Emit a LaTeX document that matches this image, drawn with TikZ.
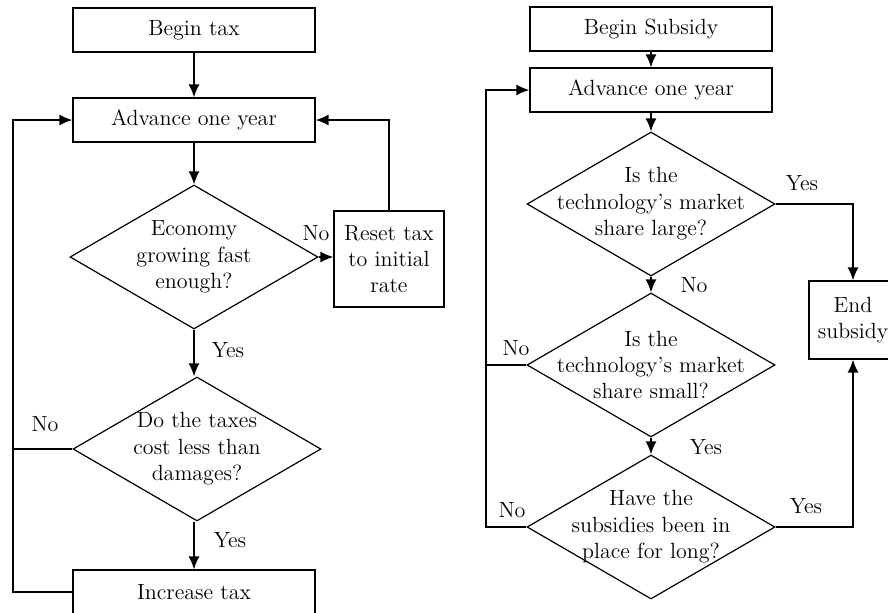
\documentclass[tikz,border=0pt]{standalone}
\usepackage{tikz}
\usetikzlibrary{shapes,arrows,positioning,calc,arrows.meta}

\begin{document}
\begin{tikzpicture}[x=0.5pt,y=-0.5pt,
    font=\fontsize{11}{13.2}\selectfont,
    box/.style={draw, line width=0.6pt, align=center, inner sep=0pt, minimum width=121pt, minimum height=22pt},
    decision/.style={diamond, draw, line width=0.6pt, align=center, inner xsep=-30pt, inner ysep=-14pt,
        minimum width=124pt, minimum height=72pt},
    arr/.style={-{Latex[length=6.5pt,width=5.5pt]}, line width=0.8pt},
    conn/.style={line width=0.8pt}]
    \clip (0,0) rectangle (888,612);

    % tax loop
    \node[box] (begtax) at (194,30) {Begin tax};
    \node[box] (advtax) at (194,120) {Advance one year};
    \node[decision] (grow) at (194,257) {Economy\\growing fast\\enough?};
    \node[box, minimum width=55pt, minimum height=48pt] (reset) at (389,259) {Reset tax\\to initial\\rate};
    \node[decision] (cost) at (197,449) {Do the taxes\\cost less than\\damages?};
    \node[box] (inctax) at (194,592) {Increase tax};
    \coordinate (ltrack) at (13,592);

    \draw[arr] (begtax) -- (advtax);
    \draw[arr] (advtax) -- (grow);
    \draw[arr] (grow.east) -- (grow.east -| reset.west);
    \draw[arr] (reset.north) |- (advtax.east);
    \draw[arr] (grow.south) -- (grow.south |- cost.north);
    \draw[arr] (inctax.north |- cost.south) -- (inctax.north);
    \draw[arr] (inctax.west) -- (ltrack) |- (advtax.west);
    \draw[conn] (cost.west) -- (cost.west -| ltrack);

    \node (gno) at (316,233) {No};
    \node (gyes) at (228,350) {Yes};
    \node (cno) at (45,424) {No};
    \node (cyes) at (230,540) {Yes};

    % subsidy loop
    \node[box] (begsub) at (651,29) {Begin Subsidy};
    \node[box] (advsub) at (651,90) {Advance one year};
    \node[decision] (large) at (651,204) {Is the\\technology's market\\share large?};
    \node[decision] (small) at (651,365) {Is the\\technology's market\\share small?};
    \node[decision] (long) at (651,527) {Have the\\subsidies been in\\place for long?};
    \node[box, minimum width=44pt, minimum height=39pt] (endsub) at (853,320) {End\\subsidy};
    \coordinate (rtrack) at (486,527);

    \draw[arr] (begsub) -- (advsub);
    \draw[arr] (advsub) -- (large);
    \draw[arr] (large.east) -| (endsub.north);
    \draw[arr] (large) -- (small);
    \draw[arr] (small) -- (long);
    \draw[conn] (small.west) -- (small.west -| rtrack);
    \draw[arr] (long.west) -- (rtrack) |- (advsub.west);
    \draw[arr] (long.east) -| (endsub.south);

    \node (lyes) at (802,183) {Yes};
    \node (lno) at (694,285) {No};
    \node (sno) at (516,348) {No};
    \node (syes) at (706,447) {Yes};
    \node (hno) at (512,510) {No};
    \node (hyes) at (806,506) {Yes};
\end{tikzpicture}
\end{document}
